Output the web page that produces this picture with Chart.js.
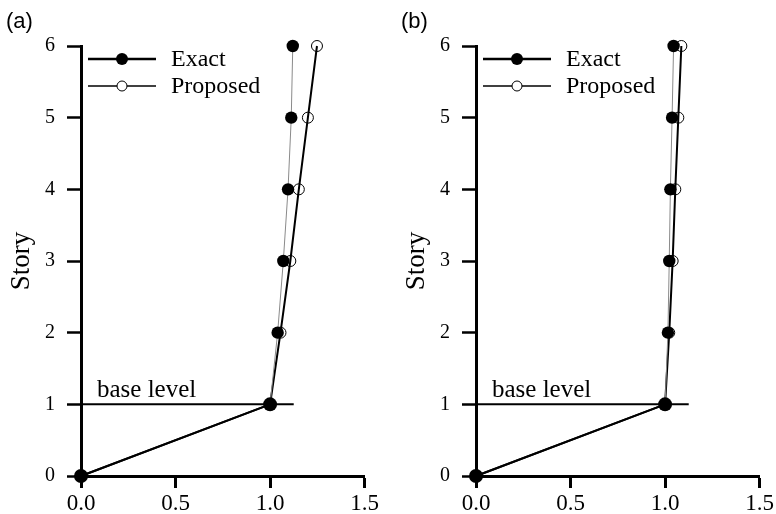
<!DOCTYPE html>
<html>
<head>
<meta charset="utf-8">
<script src="https://cdn.jsdelivr.net/npm/chart.js@4/dist/chart.umd.min.js"></script>
<style>
  html, body { margin: 0; padding: 0; background: #fff; }
  #wrap { position: relative; width: 776px; height: 514px; overflow: hidden; }
  canvas { position: absolute; top: 0; }
</style>
</head>
<body>
<div id="wrap">
  <canvas id="ca" width="381" height="514" style="left:0px"></canvas>
  <canvas id="cb" width="381" height="514" style="left:395px"></canvas>
</div>
<script>
// ---- data ----
const stories = [0, 1, 2, 3, 4, 5, 6];
const exactA = [0, 1.0, 1.04, 1.07, 1.095, 1.112, 1.12];
const proposedA = [0, 1.0, 1.055, 1.107, 1.152, 1.2, 1.248];
const exactB = [0, 1.0, 1.015, 1.022, 1.028, 1.037, 1.045];
const proposedB = [0, 1.0, 1.022, 1.04, 1.054, 1.07, 1.086];
const baseLevelStory = 1;
const baseLevelEnd = 1.125;
const panelLabels = ['(a)', '(b)'];
const seriesNames = ['Exact', 'Proposed'];
const xTicks = [0, 0.5, 1.0, 1.5];
const yTicks = [0, 1, 2, 3, 4, 5, 6];

const SERIF = '"Liberation Serif", "Times New Roman", serif';
const SANS = '"Liberation Sans", Arial, sans-serif';

const annot = {
  id: 'annot',
  afterDraw(chart, args, opts) {
    const ctx = chart.ctx;
    const xs = chart.scales.x, ys = chart.scales.y;
    ctx.save();
    // panel label
    ctx.fillStyle = '#000';
    ctx.font = '22px ' + SANS;
    ctx.textBaseline = 'alphabetic';
    ctx.textAlign = 'left';
    ctx.fillText(opts.label, 6, 28);
    // base level text
    ctx.font = '25px ' + SERIF;
    ctx.fillText('base level', xs.getPixelForValue(0) + 16, ys.getPixelForValue(baseLevelStory) - 7);
    // legend
    const lx0 = xs.left + 7, lx1 = xs.left + 75, mx = (lx0 + lx1) / 2;
    const rows = [ys.top + 13, ys.top + 40];
    ctx.strokeStyle = '#000';
    // Exact
    ctx.lineWidth = 2.5;
    ctx.beginPath(); ctx.moveTo(lx0, rows[0]); ctx.lineTo(lx1, rows[0]); ctx.stroke();
    ctx.beginPath(); ctx.arc(mx, rows[0], 6, 0, Math.PI * 2); ctx.fillStyle = '#000'; ctx.fill();
    // Proposed
    ctx.lineWidth = 1.5;
    ctx.beginPath(); ctx.moveTo(lx0, rows[1]); ctx.lineTo(lx1, rows[1]); ctx.stroke();
    ctx.beginPath(); ctx.arc(mx, rows[1], 5, 0, Math.PI * 2); ctx.fillStyle = '#fff'; ctx.fill();
    ctx.lineWidth = 1; ctx.stroke();
    ctx.fillStyle = '#000';
    ctx.font = '24px ' + SERIF;
    ctx.textBaseline = 'middle';
    ctx.fillText(seriesNames[0], lx1 + 15, rows[0] + 1);
    ctx.fillText(seriesNames[1], lx1 + 15, rows[1] + 1);
    ctx.restore();
  }
};

function makeChart(id, label, exact, proposed) {
  const exactPts = stories.map((s, i) => ({ x: exact[i], y: s }));
  const propPts = stories.map((s, i) => ({ x: proposed[i], y: s }));
  return new Chart(document.getElementById(id), {
    type: 'scatter',
    data: {
      datasets: [
        {
          label: seriesNames[0],
          data: exactPts,
          showLine: true,
          clip: false,
          borderColor: '#8a8a8a',
          borderWidth: 1,
          segment: {
            borderColor: c => c.p0DataIndex === 0 ? '#000' : '#8a8a8a',
            borderWidth: c => c.p0DataIndex === 0 ? 2 : 1
          },
          pointRadius: stories.map(s => s <= 1 ? 7 : 6.2),
          pointBackgroundColor: '#000',
          pointBorderColor: '#000',
          pointBorderWidth: 0,
          order: 0
        },
        {
          label: seriesNames[1],
          data: propPts,
          showLine: true,
          clip: false,
          borderColor: '#000',
          borderWidth: 2,
          pointRadius: 5.5,
          pointBackgroundColor: 'rgba(0,0,0,0)',
          pointBorderColor: '#000',
          pointBorderWidth: 1,
          order: 1
        },
        {
          label: 'base',
          data: [{ x: 0, y: baseLevelStory }, { x: baseLevelEnd, y: baseLevelStory }],
          showLine: true,
          clip: false,
          borderColor: '#000',
          borderWidth: 2,
          pointRadius: 0,
          order: 2
        }
      ]
    },
    options: {
      responsive: false,
      animation: false,
      devicePixelRatio: 1,
      layout: { padding: { left: 6, right: 14, top: 46, bottom: 0 } },
      plugins: {
        legend: { display: false },
        tooltip: { enabled: false },
        annot: { label: label }
      },
      scales: {
        x: {
          type: 'linear',
          min: 0, max: 1.5,
          afterBuildTicks: s => { s.ticks = xTicks.map(v => ({ value: v })); },
          afterFit: s => { s.height = 38; },
          border: { display: true, color: '#000', width: 3 },
          grid: { display: true, drawOnChartArea: false, drawTicks: true, tickLength: 12, tickColor: '#000', tickWidth: 3 },
          ticks: {
            color: '#000',
            font: { family: SERIF, size: 23 },
            padding: 2,
            callback: v => Number(v).toFixed(1)
          }
        },
        y: {
          type: 'linear',
          min: 0, max: 6,
          afterBuildTicks: s => { s.ticks = yTicks.map(v => ({ value: v })); },
          afterFit: s => { s.width = 75; },
          border: { display: true, color: '#000', width: 3 },
          grid: { display: true, drawOnChartArea: false, drawTicks: true, tickLength: 14, tickColor: '#000', tickWidth: 2.5 },
          title: { display: true, text: 'Story', color: '#000', font: { family: SERIF, size: 27 }, padding: 0 },
          ticks: {
            color: '#000',
            font: { family: SERIF, size: 20 },
            padding: 12,
            callback: v => String(v)
          }
        }
      }
    },
    plugins: [annot]
  });
}

makeChart('ca', panelLabels[0], exactA, proposedA);
makeChart('cb', panelLabels[1], exactB, proposedB);
</script>
</body>
</html>
